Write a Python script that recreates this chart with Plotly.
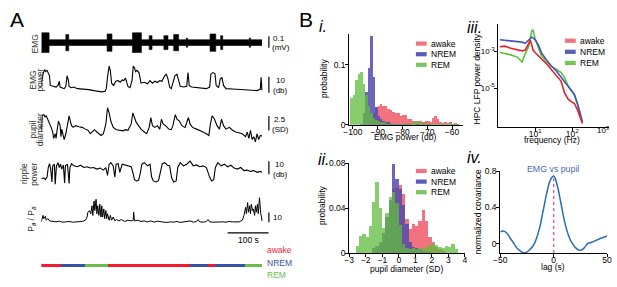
import plotly.graph_objects as go

W, H = 617, 287
FONT = "Liberation Sans, Arial, Helvetica, sans-serif"

# ======================= DATA =======================
# ---- Panel A: time series (time in s) ----
emg_seg_t = [0, 19, 60, 67, 161, 173, 223, 245, 264, 271, 300, 310, 324, 336, 355, 358,
             413, 427, 439, 444, 509, 512, 540]
emg_amp_mv = [0.085, 0.025, 0.07, 0.025, 0.075, 0.025, 0.085, 0.025, 0.06, 0.025, 0.06,
              0.025, 0.07, 0.025, 0.04, 0.025, 0.075, 0.025, 0.06, 0.025, 0.04, 0.025]

emg_pow_t = [0, 4, 8, 10, 14, 18, 20, 22, 28, 36, 41, 44, 46, 56, 60, 63, 66, 68, 73, 80,
             88, 100, 116, 132, 148, 156, 159, 162, 166, 169, 172, 177, 182, 188, 193, 198,
             202, 206, 209, 212, 217, 222, 225, 228, 231, 234, 239, 244, 252, 260, 266, 272,
             278, 284, 290, 295, 302, 306, 310, 314, 318, 322, 327, 332, 336, 340, 348, 356,
             359, 362, 368, 380, 392, 404, 412, 415, 420, 425, 428, 434, 438, 442, 446, 452,
             468, 484, 500, 516, 528, 536, 538, 540]
emg_pow_db = [8.2, 15.2, 18.2, 16.8, 17.6, 15.6, 14.2, 8.2, 7.6, 7.2, 8.2, 10.8, 7.2, 6.2,
              7.6, 14.2, 11.6, 7.6, 6.8, 7.2, 6.2, 6.0, 5.6, 4.8, 4.2, 4.6, 6.2, 13.2, 20.2,
              17.2, 9.6, 8.2, 10.8, 11.2, 10.2, 11.6, 11.2, 12.8, 10.8, 7.6, 6.8, 11.2, 20.2,
              19.2, 16.8, 17.6, 16.2, 9.6, 10.2, 9.2, 11.2, 9.6, 10.8, 10.0, 11.2, 10.8, 14.2,
              15.2, 12.2, 7.2, 6.2, 10.2, 14.2, 15.2, 11.2, 7.6, 7.2, 7.6, 16.2, 8.2, 7.2,
              6.8, 6.6, 6.2, 7.2, 15.2, 16.2, 15.6, 8.2, 6.8, 12.2, 13.2, 8.2, 6.2, 6.0, 5.8,
              5.6, 5.2, 5.0, 5.8, 13.2, 5.2]

pupil_t = [0, 2, 6, 9, 12, 16, 20, 24, 28, 30, 34, 36, 39, 42, 46, 48, 50, 54, 56, 60,
           64, 68, 71, 74, 78, 84, 92, 100, 108, 114, 120, 124, 130, 136, 142, 146, 152, 158,
           162, 166, 170, 176, 184, 192, 200, 206, 212, 220, 224, 228, 232, 238, 244, 252,
           258, 264, 268, 272, 278, 284, 290, 294, 298, 304, 312, 318, 322, 328, 332, 338,
           344, 352, 360, 364, 370, 380, 388, 396, 404, 410, 414, 418, 424, 430, 436, 441,
           446, 452, 460, 468, 476, 484, 492, 500, 504, 508, 512, 516, 520, 524, 528, 532,
           536, 540]
pupil_sd = [-1.1, 1.7, 1.9, 1.5, 1.7, 1.1, 0.6, -0.3, -1.1, -2.2, -1.4, -2.2, -0.6, 0.8, 0,
            -1.9, -0.6, -1.7, -2.4, -1.4, 0.3, 1.7, 0.8, 0, -0.3, 0, -0.2, -0.3, -0.6, -0.8,
            -1.4, -1.1, -0.7, -1.1, -1.4, -1.7, -1.4, 0.3, 3.1, 2.2, 0.8, -0.3, -0.7, -0.8,
            -0.9, -0.7, -0.8, 0.3, 2.2, 1.4, 0.6, 0, -0.6, -1.1, -1.4, -0.3, 1.4, 0, -0.3, 0,
            -0.6, 1.1, 0.3, 0, -0.6, -0.7, 0, 1.9, 1.1, 0.8, 0, -0.3, 1.4, 0.3, -0.3, -0.6,
            -0.8, -1.1, -1.4, -1.7, 0.3, 1.7, 1.1, 0, -0.6, 1.1, 0, -0.6, -0.3, -0.8, -1.1,
            -1.3, -1.4, -1.9, -1.1, -2.2, -0.8, -2.4, -1.9, -2.8, -1.4, -2.4, -1.7, -1.8]

ripple_t = [0, 6, 10, 14, 17, 20, 23, 26, 28, 32, 34, 37, 41, 44, 47, 50, 54, 57, 59, 64,
            68, 70, 74, 80, 88, 96, 104, 112, 120, 128, 136, 144, 152, 158, 162, 166, 170,
            176, 180, 183, 188, 192, 198, 204, 212, 220, 225, 228, 233, 238, 242, 246, 252,
            260, 266, 270, 274, 281, 287, 292, 296, 302, 308, 314, 319, 324, 330, 334, 340,
            348, 356, 364, 372, 380, 388, 396, 404, 412, 417, 422, 426, 432, 440, 448, 456,
            464, 472, 480, 488, 496, 504, 512, 520, 528, 536, 540]
ripple_db = [7.5, 8.2, 6.8, 8.8, 16.2, 19.2, 15.0, 5.0, 17.5, 18.8, 3.2, 17.5, 20.0, 16.2,
             18.8, 15.0, 18.2, 4.2, 17.5, 18.8, 3.8, 16.2, 19.2, 17.5, 16.8, 18.0, 16.2, 16.8,
             15.8, 16.2, 15.0, 15.8, 14.2, 16.2, 10.0, 18.8, 20.0, 17.5, 8.8, 18.8, 19.2,
             12.5, 18.8, 18.2, 17.5, 16.8, 11.2, 6.8, 5.8, 6.2, 11.2, 18.8, 20.0, 17.5, 18.8,
             8.8, 5.8, 5.0, 6.2, 13.8, 19.2, 20.0, 18.2, 17.5, 8.2, 5.0, 5.8, 16.2, 20.0,
             17.5, 18.8, 21.2, 17.5, 18.2, 16.8, 17.5, 16.2, 8.8, 5.8, 6.8, 16.2, 20.0, 17.5,
             18.8, 16.8, 18.0, 15.8, 15.0, 16.2, 13.8, 14.2, 13.2, 13.8, 12.5, 13.2, 12.5]

theta_t = [0, 4, 6, 10, 12, 16, 20, 28, 36, 44, 52, 60, 68, 76, 84, 92, 100, 108, 112, 114,
           118, 121, 124, 126, 129, 131, 134, 136, 138, 141, 143, 146, 148, 150, 153, 155,
           158, 160, 162, 166, 169, 172, 176, 180, 184, 190, 196, 204, 212, 220, 225, 226,
           228, 236, 244, 252, 260, 268, 276, 284, 292, 300, 308, 316, 324, 332, 340, 348,
           356, 364, 372, 380, 384, 388, 396, 404, 408, 412, 420, 428, 436, 444, 452, 460,
           468, 476, 484, 492, 496, 500, 502, 505, 507, 510, 512, 514, 517, 519, 522, 524,
           526, 529, 531, 534, 535, 537, 539, 540]
theta_ratio = [3.3, 10.0, 6.7, 9.0, 5.0, 6.7, 4.3, 4.0, 3.3, 4.0, 3.0, 3.3, 3.7, 3.0, 3.3,
               4.0, 3.7, 5.0, 8.3, 13.3, 15.0, 11.7, 20.0, 10.0, 25.0, 15.0, 26.7, 11.7,
               20.0, 10.0, 21.7, 8.3, 20.0, 8.3, 16.7, 6.7, 15.0, 6.7, 11.7, 5.0, 10.0, 5.0,
               8.3, 4.3, 5.7, 4.3, 5.7, 3.7, 5.0, 4.3, 5.0, 13.3, 4.3, 5.0, 3.7, 4.3, 3.3,
               4.3, 3.0, 4.0, 3.3, 3.0, 2.7, 3.3, 3.0, 3.7, 2.7, 3.0, 3.7, 4.3, 3.0, 3.7, 5.7,
               3.3, 3.0, 3.7, 5.7, 3.3, 3.0, 3.3, 3.0, 3.3, 3.0, 3.7, 3.3, 3.0, 3.3, 5.0,
               10.0, 18.3, 11.7, 23.3, 13.3, 20.0, 11.7, 21.7, 15.0, 16.7, 10.0, 20.0, 13.3,
               21.7, 11.7, 28.3, 16.7, 11.7, 8.3, 4.3]

state_names = ["awake", "NREM", "REM", "awake", "NREM", "awake", "NREM", "REM"]
state_start = [0, 48, 108, 163, 365, 408, 427, 499]
state_end = [48, 108, 163, 365, 408, 427, 499, 540]

# ---- Panel B i: EMG power histogram (1 dB bins, left edges) ----
emg_bin_left = [-101, -100, -99, -98, -97, -96, -95, -94, -93, -92, -91, -90, -89, -88,
                -87, -86, -85, -84, -83, -82, -81, -80, -79, -78, -77, -76, -75, -74, -73,
                -72, -71, -70, -69, -68, -67, -66, -65, -64, -63, -62, -61, -60, -59, -58]
emg_hist_awake = [0, 0, 0, 0, 0, 0, 0, 0, 0.004, 0.02, 0.028, 0.031, 0.034, 0.032, 0.031,
                  0.027, 0.025, 0.022, 0.02, 0.019, 0.015, 0.017, 0.016, 0.01, 0.009, 0.007,
                  0.006, 0.007, 0.006, 0.005, 0.006, 0.007, 0.005, 0.012, 0.015, 0.01, 0.004,
                  0.003, 0.005, 0.003, 0.004, 0.002, 0.003, 0.002]
emg_hist_nrem = [0, 0, 0, 0, 0.002, 0.02, 0.055, 0.095, 0.148, 0.08, 0.03, 0.015, 0.01,
                 0.007, 0.005, 0.004, 0.003, 0.002, 0.002, 0.001, 0.002, 0.001, 0.001, 0.001,
                 0.001, 0, 0.001, 0.001, 0, 0.001, 0, 0.001, 0, 0, 0, 0, 0, 0, 0, 0, 0, 0, 0, 0]
emg_hist_rem = [0.045, 0.05, 0.075, 0.085, 0.088, 0.068, 0.05, 0.032, 0.02, 0.012, 0.008,
                0.006, 0.005, 0.004, 0.003, 0.002, 0.003, 0.002, 0.002, 0.001, 0.002, 0.001,
                0.002, 0.003, 0.002, 0.004, 0.006, 0.005, 0.004, 0.005, 0.003, 0.002, 0.002,
                0.001, 0.002, 0.003, 0.002, 0.001, 0.002, 0.001, 0.003, 0.002, 0.001, 0.002]

# ---- Panel B ii: pupil histogram (0.2 SD bins, centers) ----
pupil_bin_center = [-2.5, -2.3, -2.1, -1.9, -1.7, -1.5, -1.3, -1.1, -0.9, -0.7, -0.5, -0.3,
                    -0.1, 0.1, 0.3, 0.5, 0.7, 0.9, 1.1, 1.3, 1.5, 1.7, 1.9, 2.1, 2.3, 2.5,
                    2.7, 2.9, 3.1, 3.3, 3.5]
pupil_hist_awake = [0, 0, 0, 0, 0, 0, 0.003, 0.006, 0.01, 0.02, 0.04, 0.057, 0.058, 0.06,
                    0.052, 0.03, 0.021, 0.026, 0.024, 0.028, 0.038, 0.028, 0.014, 0.01,
                    0.005, 0.003, 0.002, 0, 0, 0, 0]
pupil_hist_nrem = [0, 0, 0, 0, 0, 0.004, 0.006, 0.01, 0.018, 0.032, 0.047, 0.079, 0.066,
                   0.057, 0.043, 0.026, 0.01, 0.005, 0.004, 0.003, 0.002, 0.002, 0.001, 0,
                   0, 0, 0, 0, 0, 0, 0]
pupil_hist_rem = [0.006, 0.015, 0.017, 0.014, 0.024, 0.045, 0.063, 0.04, 0.022, 0.035,
                  0.05, 0.054, 0.044, 0.025, 0.008, 0.004, 0.003, 0.004, 0.003, 0.004,
                  0.003, 0.005, 0.007, 0.008, 0.007, 0.005, 0.004, 0.006, 0.005, 0.008,
                  0.003]

# ---- Panel B iii: HPC LFP power spectral density (log10 values) ----
psd_freq_hz = [1.1, 1.5, 2.2, 3.3, 4.4, 5.4, 6.6, 7.4, 8.1, 8.7, 10, 12.3, 15, 20, 27, 37,
               50, 62, 77, 94, 115, 140, 173, 190]
psd_log_awake = [-2.73, -2.70, -2.82, -2.91, -2.96, -2.91, -2.56, -2.38, -2.65, -2.9,
                 -3.05, -3.25, -3.42, -3.65, -3.95, -4.32, -4.62, -5.25, -5.6, -5.75, -5.85,
                 -6.2, -6.8, -6.95]
psd_log_nrem = [-2.35, -2.38, -2.4, -2.44, -2.48, -2.55, -2.38, -2.3, -2.2, -2.25, -2.35,
                -2.65, -3.09, -3.44, -3.78, -4.05, -4.4, -4.6, -4.9, -5.1, -5.35, -5.85,
                -6.45, -6.85]
psd_log_rem = [-3.05, -3.1, -3.18, -3.3, -3.57, -3.1, -2.75, -2.2, -1.85, -1.81, -2.29,
               -2.82, -3.27, -3.53, -3.8, -3.97, -4.15, -4.42, -4.86, -5.12, -5.39, -5.92,
               -6.63, -6.9]

# ---- Panel B iv: EMG vs pupil normalized covariance ----
cov_lag_s = [-50, -47, -43.7, -40.6, -37.5, -34.5, -31.4, -28.3, -25.2, -22.2, -19, -16,
             -12.9, -9.8, -6.8, -3.7, -1.2, 0, 1.2, 4, 7, 10, 13.2, 16.3, 19.4, 22.5, 25.5,
             28.6, 31.7, 34.8, 37.8, 40.9, 44, 47, 50]
cov_value = [0.13, 0.14, 0.115, 0.06, 0.007, -0.046, -0.08, -0.1, -0.093, -0.064, -0.02,
             0.06, 0.185, 0.363, 0.54, 0.683, 0.737, 0.744, 0.725, 0.61, 0.434, 0.256,
             0.114, 0.025, -0.028, -0.064, -0.071, -0.046, 0, 0.014, 0.025, 0.043, 0.06,
             0.07, 0.085]

# ======================= STYLE =======================
STATE_BAR = {"awake": "#ee1c2e", "NREM": "#3552a8", "REM": "#6abf4b"}
STATE_TXT = {"awake": "#ee2a3a", "NREM": "#3552a8", "REM": "#6abf4b"}
HIST = {"awake": "rgba(240,90,106,0.85)", "NREM": "rgba(84,74,176,0.85)",
        "REM": "rgba(96,188,60,0.75)"}
PATCH = {"awake": "#f27482", "NREM": "#5a5db5", "REM": "#7cc662"}
PSD = {"awake": "#e8202a", "NREM": "#4656b2", "REM": "#5cc040"}


def fx(x):
    return x / W


def fy(y):
    return 1 - y / H


def xdom(a, b):
    return [fx(a), fx(b)]


def ydom(top, bottom):
    return [fy(bottom), fy(top)]


fig = go.Figure()

# ---------------- Panel A traces ----------------
emg_upper = emg_amp_mv + [emg_amp_mv[-1]]
emg_lower = [-a for a in emg_upper]
fig.add_trace(go.Scatter(x=emg_seg_t, y=emg_upper, mode="lines", line=dict(color="black", width=0.6, shape="hv"),
                         xaxis="x", yaxis="y"))
fig.add_trace(go.Scatter(x=emg_seg_t, y=emg_lower, mode="lines", line=dict(color="black", width=0.6, shape="hv"),
                         fill="tonexty", fillcolor="black", xaxis="x", yaxis="y"))
fig.add_trace(go.Scatter(x=emg_pow_t, y=emg_pow_db, mode="lines", line=dict(color="black", width=1.1),
                         xaxis="x2", yaxis="y2"))
fig.add_trace(go.Scatter(x=pupil_t, y=pupil_sd, mode="lines", line=dict(color="black", width=1.1),
                         xaxis="x3", yaxis="y3"))
fig.add_trace(go.Scatter(x=ripple_t, y=ripple_db, mode="lines", line=dict(color="black", width=1.1),
                         xaxis="x4", yaxis="y4"))
fig.add_trace(go.Scatter(x=theta_t, y=theta_ratio, mode="lines", line=dict(color="black", width=1.0),
                         xaxis="x5", yaxis="y5"))

# scale bars (data units of each row)
SB_T = 557
for ax, y0, y1 in [("", -0.045, 0.055), ("2", 3.6, 13.6), ("3", -0.83, 1.67),
                   ("4", 11, 21), ("5", 3, 13)]:
    fig.add_trace(go.Scatter(x=[SB_T, SB_T], y=[y0, y1], mode="lines",
                             line=dict(color="black", width=1.2),
                             xaxis="x" + ax, yaxis="y" + ax))

# state bar + 100 s bar
for name, s, e in zip(state_names, state_start, state_end):
    fig.add_trace(go.Bar(x=[e - s], base=[s], y=[6], orientation="h", width=4,
                         marker=dict(color=STATE_BAR[name], line=dict(width=0)),
                         xaxis="x6", yaxis="y6"))
fig.add_trace(go.Scatter(x=[456, 556], y=[40, 40], mode="lines", line=dict(color="black", width=1.2),
                         xaxis="x6", yaxis="y6"))

# ---------------- Panel B i ----------------
emg_centers = [b + 0.5 for b in emg_bin_left]
for name, vals in [("awake", emg_hist_awake), ("NREM", emg_hist_nrem), ("REM", emg_hist_rem)]:
    fig.add_trace(go.Bar(x=emg_centers, y=vals, width=1.0, marker=dict(color=HIST[name], line=dict(width=0)),
                         xaxis="x7", yaxis="y7"))

# ---------------- Panel B ii ----------------
for name, vals in [("awake", pupil_hist_awake), ("NREM", pupil_hist_nrem), ("REM", pupil_hist_rem)]:
    fig.add_trace(go.Bar(x=pupil_bin_center, y=vals, width=0.2, marker=dict(color=HIST[name], line=dict(width=0)),
                         xaxis="x8", yaxis="y8"))

# ---------------- Panel B iii ----------------
for name, vals in [("REM", psd_log_rem), ("NREM", psd_log_nrem), ("awake", psd_log_awake)]:
    fig.add_trace(go.Scatter(x=psd_freq_hz, y=vals, mode="lines", line=dict(color=PSD[name], width=1.6),
                             xaxis="x9", yaxis="y9"))

# ---------------- Panel B iv ----------------
fig.add_trace(go.Scatter(x=[0, 0], y=[-0.103, 0.72], mode="lines",
                         line=dict(color="#d35fc8", width=1.5, dash="dot"), xaxis="x10", yaxis="y10"))
fig.add_trace(go.Scatter(x=cov_lag_s, y=cov_value, mode="lines", line=dict(color="#2a6db5", width=1.5, shape="spline"),
                         xaxis="x10", yaxis="y10"))

# ======================= AXES =======================
hidden = dict(visible=False, showgrid=False, zeroline=False, fixedrange=True)
A_X = xdom(35, 275)
A_RANGE = [0, 576]
layout_axes = {}
rows = [("", (27, 51), [-0.1, 0.1]), ("2", (55, 97), [0, 25.2]), ("3", (100, 145), [-3.333, 4.167]),
        ("4", (155, 190), [0, 26.25]), ("5", (193, 228), [0, 35]), ("6", (228, 276), [0, 48])]
for suffix, (top, bot), yr in rows:
    xa = "xaxis" + suffix
    ya = "yaxis" + suffix
    layout_axes[xa] = dict(hidden, domain=A_X, range=A_RANGE, anchor="y" + suffix)
    layout_axes[ya] = dict(hidden, domain=ydom(top, bot), range=yr, anchor="x" + suffix)

tick_common = dict(showline=True, linecolor="black", linewidth=1, ticks="outside", ticklen=3,
                   tickwidth=1, tickcolor="black", showgrid=False, zeroline=False,
                   tickfont=dict(family=FONT, size=8.5, color="black"), mirror=False)
xt = dict(tick_common, ticklabelstandoff=-4)
yt = dict(tick_common, ticklabelstandoff=-2)

layout_axes["xaxis7"] = dict(xt, domain=xdom(349, 465), range=[-101.5, -55.6], anchor="y7",
                             tickvals=[-100, -90, -80, -70, -60])
layout_axes["yaxis7"] = dict(yt, domain=ydom(30, 124), range=[0, 0.1516], anchor="x7",
                             tickvals=[0, 0.1], ticktext=["0", "0.1"])
layout_axes["xaxis8"] = dict(xt, domain=xdom(349, 467), range=[-3, 4], anchor="y8",
                             tickvals=[-3, -2, -1, 0, 1, 2, 3, 4])
layout_axes["yaxis8"] = dict(yt, domain=ydom(164, 257), range=[0, 0.08], anchor="x8",
                             tickvals=[0, 0.04, 0.08], ticktext=["0", "0.04", "0.08"])
layout_axes["xaxis9"] = dict(xt, domain=xdom(501, 614), type="log", range=[0, 3], anchor="y9",
                             tickvals=[10, 100], ticktext=["10<sup>1</sup>", "10<sup>2</sup>"])
layout_axes["yaxis9"] = dict(yt, domain=ydom(20, 126), range=[-7.12, -1.5], anchor="x9",
                             tickvals=[-3, -5], ticktext=["10<sup>-3</sup>", "10<sup>-5</sup>"],
                             tickfont=dict(family=FONT, size=8, color="black"))
layout_axes["xaxis10"] = dict(xt, domain=xdom(503, 612), range=[-50, 50], anchor="y10",
                              tickvals=[-50, 0, 50])
layout_axes["yaxis10"] = dict(yt, domain=ydom(172, 257), range=[-0.103, 0.8], anchor="x10",
                              tickvals=[0, 0.4, 0.8], ticktext=["0", "0.4", "0.8"])

# ======================= TEXT =======================
annotations = []


def ann(text, x, y, size=8.5, color="black", angle=0, xanchor="center", yanchor="middle", align="center"):
    annotations.append(dict(text=text, x=fx(x), y=fy(y), xref="paper", yref="paper", showarrow=False,
                            textangle=angle, xanchor=xanchor, yanchor=yanchor, align=align,
                            font=dict(family=FONT, size=size, color=color)))


# panel letters
ann("A", 10, 15, size=21)
ann("B", 305, 15, size=21)
ann("<i>i.</i>", 322, 22, size=16)
ann("<i>ii.</i>", 323, 160, size=16)
ann("<i>iii.</i>", 477, 23, size=16)
ann("<i>iv.</i>", 477, 158, size=16)

# panel A row labels (one rotated line each)
GRAY = "#333333"
ann("EMG", 28.5, 40, color=GRAY, angle=-90)
ann("EMG", 27, 78, color=GRAY, angle=-90)
ann("power", 34, 78, color=GRAY, angle=-90)
ann("pupil", 26.5, 129, color=GRAY, angle=-90)
ann("diameter", 33.5, 129, color=GRAY, angle=-90)
ann("ripple", 17.5, 175, color=GRAY, angle=-90)
ann("power", 27.5, 175, color=GRAY, angle=-90)
ann("P<sub><b><i>θ</i></b></sub> / P<sub><b><i>δ</i></b></sub>", 25, 222, color=GRAY, angle=-90)

# scale-bar labels
ann("0.1", 277, 35, size=8)
ann("(mV)", 279, 44, size=8)
ann("10", 278.5, 78.5, size=8)
ann("(db)", 279, 89, size=8)
ann("2.5", 278, 119, size=8)
ann("(SD)", 279, 128.5, size=8)
ann("10", 277.5, 165, size=8)
ann("(db)", 279, 176, size=8)
ann("10", 269, 220.5, size=8, xanchor="left")
ann("100 s", 246, 243.5, size=8.5)

# state legend
ann("awake", 263, 254, color=STATE_TXT["awake"], xanchor="left")
ann("NREM", 263, 267, color=STATE_TXT["NREM"], xanchor="left")
ann("REM", 263, 280, color=STATE_TXT["REM"], xanchor="left")

# panel B axis titles
ann("probability", 324, 76, angle=-90)
ann("EMG power (db)", 406, 136.5)
ann("probability", 321.5, 208, angle=-90)
ann("pupil diameter (SD)", 407, 273.5)
ann("HPC LFP power density", 479.5, 77, angle=-90)
ann("frequency (Hz)", 556, 140)
ann("10<sup>3</sup>", 608, 129.5, size=8)
ann("normalized covariance", 480, 214, angle=-90)
ann("lag (s)", 557, 271.5)
ann("EMG vs pupil", 557, 170, color="#4a68b8", size=8.8)

# legends inside panels (patch + label)
shapes = []


def legend_block(x_patch, y_first, step, colors):
    for i, name in enumerate(["awake", "NREM", "REM"]):
        yc = y_first + i * step
        shapes.append(dict(type="rect", xref="paper", yref="paper", x0=fx(x_patch), x1=fx(x_patch + 11),
                           y0=fy(yc + 2.2), y1=fy(yc - 2.2), fillcolor=colors[name], line=dict(width=0)))
        ann(name, x_patch + 13, yc, xanchor="left")


legend_block(417, 40, 11, PATCH)
legend_block(417, 172, 11, PATCH)
legend_block(569, 37, 11.5, {"awake": "#f2707e", "NREM": "#5563b5", "REM": "#76c455"})

fig.update_layout(
    width=W, height=H, margin=dict(l=0, r=0, t=0, b=0),
    paper_bgcolor="white", plot_bgcolor="white",
    showlegend=False, barmode="overlay", bargap=0,
    font=dict(family=FONT, size=8.5, color="black"),
    annotations=annotations, shapes=shapes,
    **layout_axes,
)

fig.write_html("out.html", config={"displayModeBar": False},
               post_script="document.body.style.margin='0';document.body.style.overflow='hidden';")
